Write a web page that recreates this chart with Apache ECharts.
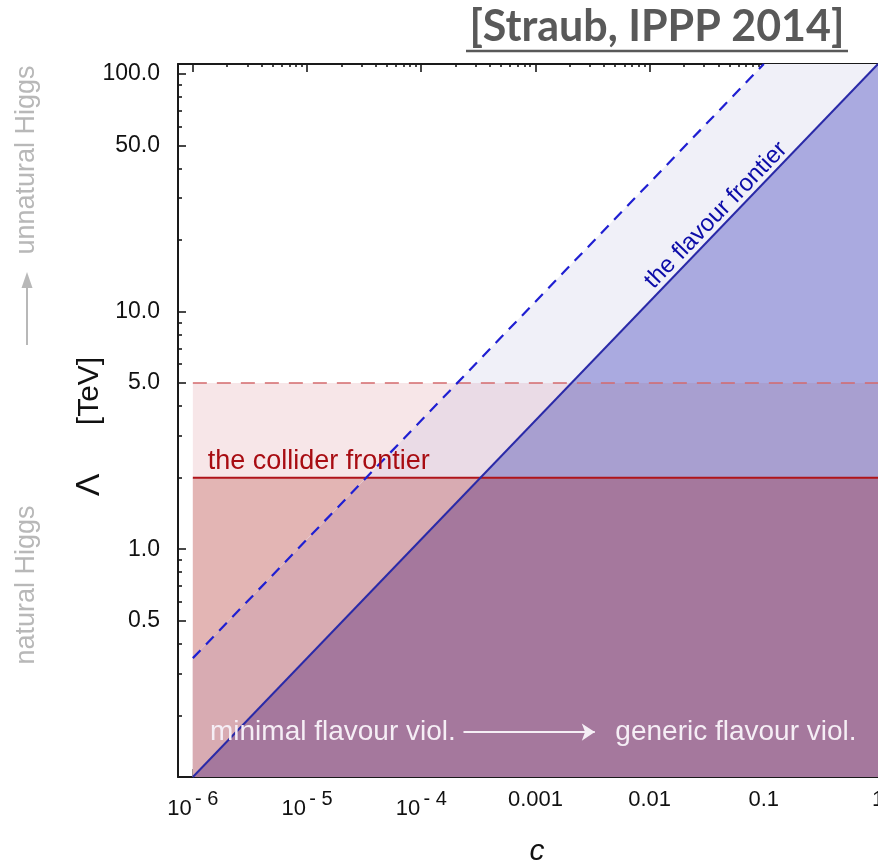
<!DOCTYPE html>
<html>
<head>
<meta charset="utf-8">
<script src="https://cdn.jsdelivr.net/npm/echarts@6/dist/echarts.min.js"></script>
<style>
  html, body { margin: 0; padding: 0; background: #ffffff; }
  #chart { width: 878px; height: 868px; }
</style>
</head>
<body>
<div id="chart"></div>
<script>
// New-physics scale Λ (TeV) against flavour coupling c, both on log scales.
const cMajorTicks = [1e-6, 1e-5, 1e-4, 1e-3, 0.01, 0.1, 1];
const cTickLabels = ['10^-6', '10^-5', '10^-4', '0.001', '0.01', '0.1', '1'];
const cMinorMultipliers = [2, 3, 4, 5, 6, 7, 8, 9];
const lambdaMajorTicks = [0.5, 1, 5, 10, 50, 100];
const lambdaTickLabels = ['0.5', '1.0', '5.0', '10.0', '50.0', '100.0'];
const lambdaMinorTicks = [0.2, 0.3, 0.4, 0.6, 0.7, 0.8, 0.9, 2, 3, 4, 6, 7, 8, 9, 20, 30, 40, 60, 70, 80, 90];

const cRange = [1e-6, 1];
const lambdaRange = [0.11, 110];

// Flavour frontier: current reach (solid) and future reach (dashed)
const flavourC = [1e-6, 1];
const flavourLambda = [0.11, 110];
const flavourReachC = [1e-6, 0.1];
const flavourReachLambda = [0.348, 110];

// Collider frontier: current reach (solid) and future reach (dashed)
const colliderLambda = 2;
const colliderReachLambda = 5;

const L = Math.log10;
const FONT = '"Liberation Sans", Arial, sans-serif';

const xMin = L(cRange[0]) - 0.13;
const xMax = L(cRange[1]);
const yMin = L(lambdaRange[0]);
const yMax = L(lambdaRange[1]);

const xMajor = cMajorTicks.map(L);
const xMinor = [];
for (let e = L(cRange[0]); e < L(cRange[1]); e++) {
  cMinorMultipliers.forEach(m => xMinor.push(e + L(m)));
}
const yMajor = lambdaMajorTicks.map(L);
const yMinor = lambdaMinorTicks.map(L);

// straight line in log-log space through two points
function logLine(cs, ls) {
  const x0 = L(cs[0]), x1 = L(cs[1]), y0 = L(ls[0]), y1 = L(ls[1]);
  const m = (y1 - y0) / (x1 - x0);
  return { m: m, b: y0 - m * x0 };
}
const solidLine = logLine(flavourC, flavourLambda);
const dashedLine = logLine(flavourReachC, flavourReachLambda);

// keep the part of a polygon lying below a line
function clipBelow(poly, ln) {
  if (!ln) return poly;
  const out = [];
  const f = p => ln.m * p[0] + ln.b - p[1];
  for (let i = 0; i < poly.length; i++) {
    const P = poly[i], Q = poly[(i + 1) % poly.length];
    const fp = f(P), fq = f(Q);
    if (fp >= 0) out.push(P);
    if ((fp >= 0) !== (fq >= 0)) {
      const t = fp / (fp - fq);
      out.push([P[0] + t * (Q[0] - P[0]), P[1] + t * (Q[1] - P[1])]);
    }
  }
  return out;
}

// excluded regions, painted from back to front
const regions = [
  { top: colliderReachLambda, line: null, color: '#f7e6e8' },
  { top: colliderLambda, line: null, color: '#e3b5b4' },
  { top: lambdaRange[1], line: dashedLine, color: '#f0f0f8' },
  { top: colliderReachLambda, line: dashedLine, color: '#eadbe6' },
  { top: colliderLambda, line: dashedLine, color: '#d8abb2' },
  { top: lambdaRange[1], line: solidLine, color: '#aaaae0' },
  { top: colliderReachLambda, line: solidLine, color: '#a89fd0' },
  { top: colliderLambda, line: solidLine, color: '#a5789d' }
];

function regionPolygon(r) {
  const x0 = L(cRange[0]), x1 = L(cRange[1]), y0 = yMin, y1 = L(r.top);
  return clipBelow([[x0, y0], [x1, y0], [x1, y1], [x0, y1]], r.line);
}

function xLabel(v) {
  const i = xMajor.findIndex(t => Math.abs(t - v) < 1e-6);
  if (i < 0) return '';
  const s = cTickLabels[i];
  if (s.indexOf('10^') === 0) {
    return '{b|10} {s|' + s.slice(3).replace('-', '- ') + '}';
  }
  return '{b|' + s + '}';
}
function yLabel(v) {
  const i = yMajor.findIndex(t => Math.abs(t - v) < 1e-6);
  return i < 0 ? '' : lambdaTickLabels[i];
}

const axisLineStyle = { color: '#1a1a1a', width: 2 };
const tickStyle = { color: '#1a1a1a', width: 1.6 };

function xAxisCfg(position, values, len, withLabels, withLine) {
  return {
    type: 'value', position: position, min: xMin, max: xMax,
    axisLine: { show: withLine, onZero: false, lineStyle: axisLineStyle },
    axisTick: { show: true, inside: true, length: len, customValues: values, lineStyle: tickStyle },
    axisLabel: withLabels ? {
      show: true, customValues: xMajor, margin: 12, formatter: xLabel,
      rich: {
        b: { fontFamily: FONT, fontSize: 22, color: '#111' },
        s: { fontFamily: FONT, fontSize: 20, color: '#111', padding: [0, 0, 20, 0] }
      }
    } : { show: false },
    splitLine: { show: false }
  };
}
function yAxisCfg(values, len, withLabels, withLine) {
  return {
    type: 'value', position: 'left', min: yMin, max: yMax,
    axisLine: { show: withLine, onZero: false, lineStyle: axisLineStyle },
    axisTick: { show: true, inside: true, length: len, customValues: values, lineStyle: tickStyle },
    axisLabel: withLabels ? {
      show: true, customValues: yMajor, margin: 18, formatter: yLabel,
      fontFamily: FONT, fontSize: 23, color: '#111'
    } : { show: false },
    splitLine: { show: false }
  };
}

const logPts = (cs, ls) => cs.map((c, i) => [L(c), L(ls[i])]);

const sideGray = '#b8b8b8';
const noteWhite = '#f5eef5';

const option = {
  animation: false,
  backgroundColor: '#ffffff',
  grid: { left: 178, top: 64, width: 700, height: 713, outerBoundsMode: 'none', containLabel: false },
  xAxis: [
    xAxisCfg('bottom', xMajor, 8, true, true),
    xAxisCfg('bottom', xMinor, 3, false, false),
    xAxisCfg('top', xMajor, 8, false, true),
    xAxisCfg('top', xMinor, 3, false, false)
  ],
  yAxis: [
    yAxisCfg(yMajor, 8, true, true),
    yAxisCfg(yMinor, 4, false, false)
  ],
  series: [
    {
      type: 'custom',
      name: 'excluded',
      silent: true,
      z: 1,
      data: regions.map((r, i) => [L(cRange[0]), yMin, i]),
      renderItem: function (params, api) {
        const r = regions[api.value(2)];
        const pts = regionPolygon(r).map(p => api.coord(p));
        return { type: 'polygon', shape: { points: pts }, style: { fill: r.color } };
      }
    },
    {
      type: 'line', name: 'collider reach', z: 3, symbol: 'none', silent: true,
      data: logPts(cRange, [colliderReachLambda, colliderReachLambda]),
      lineStyle: { color: '#d46a6c', width: 1.6, type: [14, 10] }
    },
    {
      type: 'line', name: 'collider', z: 3, symbol: 'none', silent: true,
      data: logPts(cRange, [colliderLambda, colliderLambda]),
      lineStyle: { color: '#b0141a', width: 2 }
    },
    {
      type: 'line', name: 'flavour reach', z: 4, symbol: 'none', silent: true,
      data: logPts(flavourReachC, flavourReachLambda),
      lineStyle: { color: '#1f1fd2', width: 2.2, type: [11, 8] }
    },
    {
      type: 'line', name: 'flavour', z: 4, symbol: 'none', silent: true,
      data: logPts(flavourC, flavourLambda),
      lineStyle: { color: '#2a2aa8', width: 2 }
    },
    {
      type: 'scatter', name: 'notes', z: 5, symbolSize: 1, silent: true,
      itemStyle: { color: 'rgba(0,0,0,0)' },
      emphasis: { disabled: true },
      data: [
        {
          value: [-1.27, solidLine.b + solidLine.m * -1.27],
          label: {
            show: true, formatter: 'the flavour frontier', position: 'inside', rotate: 46,
            offset: [-12, -12], fontFamily: FONT, fontSize: 24, color: '#0c0ca8', opacity: 1
          }
        },
        {
          value: [L(cRange[0]) + 0.13, L(colliderLambda)],
          label: {
            show: true, formatter: 'the collider frontier', position: 'inside',
            align: 'left', verticalAlign: 'bottom', offset: [0, -3],
            fontFamily: FONT, fontSize: 27, color: '#a80c12', opacity: 1
          }
        },
        {
          value: [-5.85, L(0.17)],
          label: {
            show: true, formatter: 'minimal flavour viol.', position: 'inside',
            align: 'left', verticalAlign: 'middle',
            fontFamily: FONT, fontSize: 28, color: noteWhite, opacity: 1
          }
        },
        {
          value: [-2.3, L(0.17)],
          label: {
            show: true, formatter: 'generic flavour viol.', position: 'inside',
            align: 'left', verticalAlign: 'middle',
            fontFamily: FONT, fontSize: 28, color: noteWhite, opacity: 1
          }
        }
      ],
      markLine: {
        silent: true,
        symbol: ['none', 'arrow'],
        symbolSize: 13,
        label: { show: false },
        lineStyle: { color: noteWhite, width: 2, type: 'solid', opacity: 1 },
        data: [[{ coord: [-3.63, L(0.17)] }, { coord: [-2.48, L(0.17)] }]]
      }
    }
  ],
  graphic: [
    {
      type: 'text', x: 657, y: 27,
      style: { text: '[Straub, IPPP 2014]', font: 'bold 43px Lato, "Open Sans", sans-serif', fill: '#595959', align: 'center', verticalAlign: 'middle' }
    },
    { type: 'line', shape: { x1: 466, y1: 51, x2: 848, y2: 51 }, style: { stroke: '#595959', lineWidth: 2.5 } },
    {
      type: 'text', x: 27, y: 160, rotation: Math.PI / 2,
      style: { text: 'unnatural Higgs', font: '27px ' + FONT, fill: sideGray, align: 'center', verticalAlign: 'middle' }
    },
    {
      type: 'text', x: 27, y: 585, rotation: Math.PI / 2,
      style: { text: 'natural Higgs', font: '27px ' + FONT, fill: sideGray, align: 'center', verticalAlign: 'middle' }
    },
    { type: 'line', shape: { x1: 27, y1: 345, x2: 27, y2: 284 }, style: { stroke: sideGray, lineWidth: 2 } },
    { type: 'polygon', shape: { points: [[27, 272], [21.5, 288], [32.5, 288]] }, style: { fill: sideGray } },
    {
      type: 'text', x: 90, y: 391, rotation: Math.PI / 2,
      style: { text: '[TeV]', font: '30px ' + FONT, fill: '#111', align: 'center', verticalAlign: 'middle' }
    },
    {
      type: 'text', x: 90, y: 485, rotation: Math.PI / 2,
      style: { text: 'Λ', font: '34px ' + FONT, fill: '#111', align: 'center', verticalAlign: 'middle' }
    },
    {
      type: 'text', x: 537, y: 852,
      style: { text: 'c', font: 'italic 30px ' + FONT, fill: '#111', align: 'center', verticalAlign: 'middle' }
    }
  ]
};

const chart = echarts.init(document.getElementById('chart'), null, { renderer: 'canvas' });
chart.setOption(option);
</script>
</body>
</html>
